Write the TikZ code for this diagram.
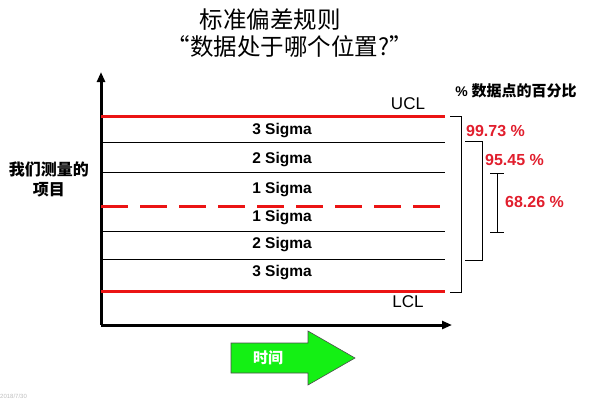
\documentclass[tikz,border=0pt]{standalone}
\usepackage{fontspec}
\setmainfont{Liberation Sans}
\newfontfamily\cjk{Noto Sans CJK SC}
\usetikzlibrary{arrows.meta}
\definecolor{lred}{RGB}{235,20,20}
\definecolor{tred}{RGB}{225,30,45}
\definecolor{agreen}{RGB}{20,240,20}
\begin{document}
\begin{tikzpicture}[x=1pt,y=-1pt,
  redline/.style={lred,line width=3pt},
  thinline/.style={black,line width=0.9pt},
  axisline/.style={black,line width=3pt,-{Triangle[length=10pt,width=8pt]}},
  siglabel/.style={font=\bfseries\fontsize{15.5}{17}\selectfont,inner sep=0pt},
  pctlabel/.style={tred,font=\bfseries\fontsize{16}{18}\selectfont,inner sep=0pt,anchor=west},
  limlabel/.style={font=\fontsize{17}{19}\selectfont,inner sep=0pt},
  bracket/.style={black,line width=1pt}]
\useasboundingbox (0,0) rectangle (600,400);
% title
\node[font=\cjk\fontsize{23.5}{26}\selectfont,inner sep=0pt] (t1) at (270,20) {标准偏差规则};
\node[font=\cjk\fontsize{23.5}{26}\selectfont,inner sep=0pt] (t2) at (290,47) {“数据处于哪个位置?”};
% axes
\coordinate (o) at (101,325);
\coordinate (ytop) at (101,72);
\coordinate (xend) at (452,325);
\draw[axisline] (o) -- (ytop);
\draw[axisline] (o) -- (xend);
% lines
\coordinate (ucl0) at (101,116); \coordinate (ucl1) at (445,116);
\coordinate (p20) at (101,142); \coordinate (p21) at (445,142);
\coordinate (p10) at (101,172); \coordinate (p11) at (445,172);
\coordinate (m0) at (101,206); \coordinate (m1) at (445,206);
\coordinate (n10) at (101,231); \coordinate (n11) at (445,231);
\coordinate (n20) at (101,259); \coordinate (n21) at (445,259);
\coordinate (lcl0) at (101,291); \coordinate (lcl1) at (445,291);
\draw[redline] (ucl0) -- (ucl1);
\draw[thinline] (p20) -- (p21);
\draw[thinline] (p10) -- (p11);
\draw[redline,dash pattern=on 27pt off 12pt] (m0) -- (m1);
\draw[thinline] (n10) -- (n11);
\draw[thinline] (n20) -- (n21);
\draw[redline] (lcl0) -- (lcl1);
% sigma labels
\node[siglabel] (s3u) at (282,131) {3 Sigma};
\node[siglabel] (s2u) at (282,160) {2 Sigma};
\node[siglabel] (s1u) at (282,190) {1 Sigma};
\node[siglabel] (s1l) at (282,218) {1 Sigma};
\node[siglabel] (s2l) at (282,245) {2 Sigma};
\node[siglabel] (s3l) at (282,273) {3 Sigma};
\node[limlabel] (ucl) at (408,104) {UCL};
\node[limlabel] (lcl) at (408,302) {LCL};
% y label
\node[font=\cjk\bfseries\fontsize{16}{20}\selectfont,align=center,inner sep=0pt] (ylab) at (49,179) {我们测量的\\项目};
% header
\node[font=\bfseries\fontsize{14}{16}\selectfont,inner sep=0pt] (hdr) at (516,91) {\% {\cjk\fontsize{15}{16}\selectfont 数据点的百分比}};
% brackets
\coordinate (b1a) at (450,116); \coordinate (b1b) at (461,116);
\coordinate (b1c) at (461,292); \coordinate (b1d) at (450,292);
\draw[bracket] (b1a) -- (b1b) -- (b1c) -- (b1d);
\coordinate (b2a) at (465,141); \coordinate (b2b) at (482,141);
\coordinate (b2c) at (482,260); \coordinate (b2d) at (465,260);
\draw[bracket] (b2a) -- (b2b) -- (b2c) -- (b2d);
\coordinate (b3t) at (497,173); \coordinate (b3b) at (497,232);
\draw[bracket] (b3t) -- (b3b);
\draw[bracket] ([xshift=-7pt]b3t) -- ([xshift=7pt]b3t);
\draw[bracket] ([xshift=-7pt]b3b) -- ([xshift=7pt]b3b);
\node[pctlabel] (p99) at (466,131) {99.73 \%};
\node[pctlabel] (p95) at (485,160) {95.45 \%};
\node[pctlabel] (p68) at (505,202) {68.26 \%};
% time arrow
\draw[draw=black!70,fill=agreen,line width=0.6pt]
  (231,343) -- (308,343) -- (308,331) -- (355,358) -- (308,385) -- (308,373) -- (231,373) -- cycle;
\node[font=\cjk\bfseries\fontsize{15}{16}\selectfont,text=white,inner sep=0pt] (time) at (268,358) {时间};
% date
\node[font=\fontsize{6}{7}\selectfont,text=black!25,anchor=west,inner sep=0pt] (date) at (0,396) {2018/7/30};
\end{tikzpicture}
\end{document}
